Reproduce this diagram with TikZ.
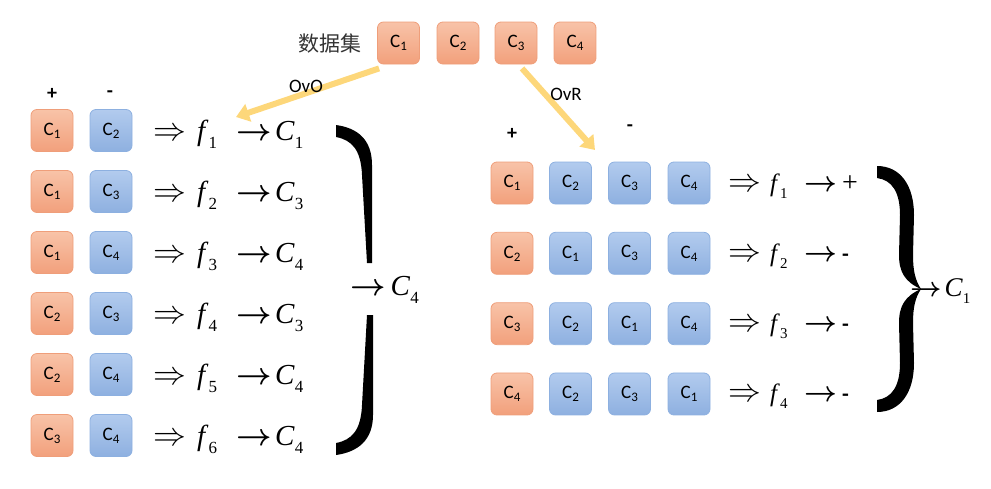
\RequirePackage{fix-cm}
\documentclass[tikz,border=0pt]{standalone}
\usepackage{fontspec}
\setmainfont{Liberation Serif}
\newfontfamily\calib{Carlito}
\newfontfamily\cjk{Noto Sans CJK SC}
\usetikzlibrary{arrows.meta}
\definecolor{otop}{HTML}{F8C3A8}
\definecolor{obot}{HTML}{F2A07C}
\definecolor{oborder}{HTML}{EF9E7A}
\definecolor{btop}{HTML}{B2CBEE}
\definecolor{bbot}{HTML}{8EB0E0}
\definecolor{bborder}{HTML}{8DB0E0}
\definecolor{yel}{HTML}{FDD77A}
\newcommand\csub[1]{\raisebox{-3pt}{\fontsize{13}{13}\selectfont #1}}
\newcommand\lsub[1]{\raisebox{-8pt}{\fontsize{17}{17}\selectfont #1}}
\newcommand\rsub[1]{\raisebox{-7pt}{\fontsize{15}{15}\selectfont #1}}
\newcommand\RA[1][1.32]{\scalebox{#1}{\fontsize{24.88}{25}\selectfont$\Rightarrow$}}
\newcommand\RR[1][1.24]{\scalebox{#1}{\fontsize{24.88}{25}\selectfont\boldmath$\rightarrow$}}
\tikzset{
  cbox/.style={rounded corners=6pt, minimum width=42pt, minimum height=42pt, inner sep=0pt, line width=0.8pt, font=\calib\fontsize{19}{19}\selectfont},
  obox/.style={cbox, draw=oborder, top color=otop, bottom color=obot},
  bbox/.style={cbox, draw=bborder, top color=btop, bottom color=bbot},
  lexpr/.style={anchor=base west, inner sep=0pt, font=\fontsize{29}{29}\selectfont},
  rexpr/.style={anchor=base west, inner sep=0pt, font=\fontsize{25}{25}\selectfont},
  sign/.style={inner sep=0pt, font=\calib\bfseries\fontsize{20}{20}\selectfont},
  lab/.style={inner sep=0pt, font=\calib\fontsize{19}{19}\selectfont},
  yarrow/.style={draw=yel, line width=6pt, -{Triangle[width=18pt,length=13pt]}}
}
\begin{document}
\begin{tikzpicture}[x=1pt,y=-1pt]
\useasboundingbox (0,0) rectangle (991,488);
% data set
\node[inner sep=0pt, font=\cjk\fontsize{21}{21}\selectfont, text=black!80] (ds) at (330,44) {数据集};
\foreach \i/\x in {1/398.5,2/458,3/516,4/575}{
  \node[obox] (d\i) at (\x,43) {C\csub{\i}};
}
% left: OvO
\node[sign] (lp) at (52,94) {+};
\node[sign] (lm) at (110,94) {-};
\foreach \r/\a/\b/\k/\c in {1/1/2/1/1, 2/1/3/2/3, 3/1/4/3/4, 4/2/3/4/3, 5/2/4/5/4, 6/3/4/6/4}{
  \pgfmathsetmacro\y{130.5+61*(\r-1)}
  \node[obox] (la\r) at (52,\y) {C\csub{\a}};
  \node[bbox] (lb\r) at (111,\y) {C\csub{\b}};
  \node[lexpr] (le\r) at (153,\y+9.5) {\makebox[44pt][l]{\RA}\makebox[39pt][l]{\textit{f}\lsub{\k}}\makebox[39pt][l]{\RR}\textit{C}\lsub{\c}};
}
% left brace
\fill (336,125) .. controls (358,128) and (372,140) .. (372,165) -- (372,263)
  -- (367,263) -- (362,175) .. controls (361,150) and (352,140) .. (336,137) -- cycle;
\fill (336,455) .. controls (358,452) and (373,440) .. (373,415) -- (373,315)
  -- (367,315) -- (362,405) .. controls (361,430) and (352,440) .. (336,443) -- cycle;
\node[lexpr] (lres) at (350,295) {\RR\hspace{5pt}\textit{C}\lsub{4}};
% right: OvR
\node[sign] (rp) at (512,134) {+};
\node[sign] (rm) at (630,128) {-};
\foreach \r/\a/\b/\c/\d/\o in {1/1/2/3/4/{\fontsize{28}{28}\selectfont +}, 2/2/1/3/4/{\calib\bfseries\fontsize{22}{22}\selectfont -}, 3/3/2/1/4/{\calib\bfseries\fontsize{22}{22}\selectfont -}, 4/4/2/3/1/{\calib\bfseries\fontsize{22}{22}\selectfont -}}{
  \pgfmathsetmacro\y{183+70.33*(\r-1)}
  \node[obox] (ra\r) at (512,\y) {C\csub{\a}};
  \node[bbox] (rb\r) at (570.5,\y) {C\csub{\b}};
  \node[bbox] (rc\r) at (629.5,\y) {C\csub{\c}};
  \node[bbox] (rd\r) at (689,\y) {C\csub{\d}};
  \node[rexpr] (re\r) at (728,\y+8) {\makebox[42pt][l]{\RA}\makebox[34pt][l]{\textit{f}\rsub{\r}}\makebox[38pt][l]{\RR[1.15]}\o};
}
% right brace
\fill (877,166) .. controls (900,166) and (914,185) .. (914,215) -- (913,255)
  .. controls (913,270) and (915,280) .. (921,289)
  .. controls (905,282) and (899,272) .. (899,255) -- (900,215)
  .. controls (900,192) and (892,180) .. (877,178) -- cycle;
\fill (877,412) .. controls (900,412) and (914,393) .. (914,363) -- (913,323)
  .. controls (913,308) and (915,298) .. (921,289)
  .. controls (905,296) and (899,306) .. (899,323) -- (900,363)
  .. controls (900,386) and (892,398) .. (877,400) -- cycle;
\node[anchor=base west, inner sep=0pt, font=\fontsize{27}{27}\selectfont] (rres) at (910,296) {\RR[1.1]\hspace{3pt}\textit{C}\rsub{1}};
% yellow arrows
\coordinate (ovoT) at (236,117);
\coordinate (ovrT) at (595,150);
\draw[yarrow] ([shift={(2pt,-4pt)}]d1.south west) -- (ovoT);
\draw[yarrow] ([shift={(6pt,-4pt)}]d3.south) -- (ovrT);
\node[lab] (ovo) at (306,86) {OvO};
\node[lab] (ovr) at (566,94) {OvR};
\end{tikzpicture}
\end{document}
